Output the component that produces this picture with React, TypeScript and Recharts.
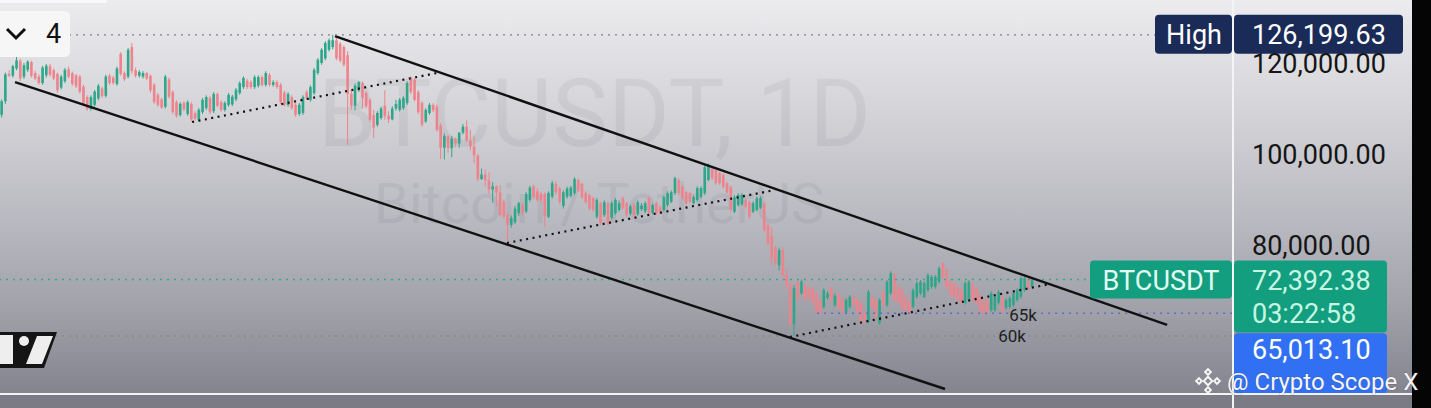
import { ComposedChart, Bar, XAxis, YAxis, ReferenceLine } from "recharts";

// daily candles, prices in thousands USDT: [open, high, low, close]
type C = [number, number, number, number];

const summerTop: C[] = [
  [108.6, 112.0, 108.0, 111.6], [111.6, 117.9, 111.0, 117.5], [117.6, 118.4, 116.9, 117.2], [117.2, 119.6, 116.8, 119.3],
  [118.8, 123.0, 118.4, 120.6], [120.5, 120.9, 116.0, 116.6], [117.0, 120.0, 116.5, 119.5], [118.5, 120.6, 118.0, 120.3],
  [120.2, 120.5, 116.8, 117.2], [117.8, 118.3, 116.2, 116.6], [117.0, 117.5, 115.2, 115.6], [115.6, 119.4, 115.2, 119.0],
  [117.3, 119.8, 116.8, 119.4], [119.3, 119.8, 117.0, 117.4], [118.4, 118.8, 116.2, 116.6], [117.6, 117.9, 113.5, 114.0],
  [114.6, 117.4, 114.2, 117.0], [116.0, 118.9, 115.6, 118.5], [118.6, 119.2, 116.6, 117.0], [117.8, 118.1, 115.0, 115.4],
  [117.3, 117.6, 114.5, 114.9], [117.0, 117.4, 113.3, 113.7], [114.8, 115.2, 110.5, 110.9], [112.5, 112.9, 109.5, 109.9],
  [109.9, 112.9, 109.5, 112.5], [110.8, 114.1, 110.4, 113.7], [112.2, 115.4, 111.8, 115.0], [114.4, 114.8, 112.3, 112.7],
  [112.8, 117.4, 112.4, 117.0], [117.2, 117.6, 115.2, 115.6], [116.8, 117.2, 115.2, 115.6], [115.4, 119.2, 115.0, 118.8],
  [122.0, 122.4, 117.2, 117.6], [117.8, 118.2, 116.0, 116.4], [117.0, 123.3, 116.6, 122.9], [123.5, 124.4, 117.6, 118.2],
  [118.4, 119.0, 116.8, 117.2], [117.2, 118.4, 116.8, 118.0], [117.0, 118.2, 116.6, 117.8], [117.8, 118.0, 116.2, 116.6],
  [117.2, 117.5, 113.5, 114.0], [115.2, 115.6, 111.0, 111.4], [113.0, 113.4, 110.4, 110.8], [112.0, 112.4, 109.9, 110.2],
  [110.4, 117.4, 110.0, 117.0], [116.4, 116.8, 112.2, 112.6], [113.6, 114.0, 108.8, 109.2], [111.4, 111.8, 108.0, 108.4],
  [108.6, 111.4, 108.2, 111.0], [111.2, 111.6, 109.4, 109.8], [108.8, 111.8, 108.4, 111.4], [111.0, 111.4, 107.2, 107.6],
  [109.0, 109.4, 107.4, 107.8], [107.5, 110.1, 107.2, 109.7], [109.2, 112.3, 108.8, 111.9], [110.1, 112.9, 109.7, 112.5],
];

const octoberPeak: C[] = [
  [112.3, 112.7, 108.8, 109.2], [109.4, 113.6, 109.0, 113.2], [113.2, 113.5, 110.2, 110.6], [111.4, 111.8, 109.3, 109.7],
  [109.7, 111.6, 109.3, 111.2], [110.8, 113.4, 110.4, 113.0], [110.9, 113.0, 110.5, 112.6], [112.0, 114.5, 111.6, 114.1],
  [113.4, 116.0, 113.0, 115.6], [114.7, 117.1, 114.3, 116.7], [116.1, 116.5, 114.3, 114.7], [115.8, 116.2, 114.3, 114.7],
  [114.7, 117.3, 114.3, 116.9], [115.0, 117.3, 114.6, 116.9], [116.9, 117.3, 114.8, 115.2], [115.2, 118.2, 114.8, 117.8],
  [117.4, 117.8, 114.8, 115.2], [115.2, 116.2, 114.8, 115.8], [115.8, 116.2, 114.3, 114.7], [115.2, 115.6, 111.0, 111.4],
  [113.5, 113.9, 110.4, 110.8], [110.8, 113.6, 110.4, 113.2], [112.5, 112.9, 109.7, 110.1], [110.8, 111.2, 108.2, 108.6],
  [108.8, 111.2, 108.4, 110.8], [109.0, 112.9, 108.6, 112.5], [113.6, 114.0, 111.9, 112.3], [111.9, 115.1, 111.5, 114.7],
  [113.4, 118.9, 113.0, 118.5], [117.8, 121.1, 117.4, 120.7], [120.0, 123.3, 119.6, 122.9], [121.0, 124.8, 120.6, 124.4],
  [122.9, 125.4, 122.5, 125.0], [123.5, 126.2, 123.0, 125.0], [125.0, 125.5, 120.6, 121.0], [124.2, 124.6, 120.1, 120.5],
  [123.5, 123.9, 119.2, 119.6], [121.7, 122.6, 102.0, 113.2], [113.2, 114.0, 109.7, 110.6], [110.6, 115.5, 109.6, 115.0],
  [114.0, 116.0, 113.6, 115.8], [115.6, 115.9, 110.0, 112.4], [113.4, 113.8, 110.0, 110.5], [111.9, 112.3, 107.0, 107.5],
  [108.5, 109.7, 103.5, 105.8], [106.4, 109.4, 106.0, 109.0], [107.9, 110.4, 107.5, 110.0], [110.6, 114.0, 107.5, 108.4],
  [108.4, 109.4, 106.8, 107.6], [107.6, 110.5, 107.4, 110.0], [110.0, 111.9, 109.5, 111.0], [109.7, 112.3, 109.3, 111.9],
  [110.1, 112.7, 109.7, 112.3], [111.2, 116.0, 110.8, 115.6], [116.7, 117.1, 113.2, 113.6], [116.3, 116.7, 111.5, 111.9],
  [113.6, 114.0, 108.8, 109.2], [111.2, 111.6, 106.0, 106.4], [107.2, 110.1, 106.8, 109.7], [109.0, 111.2, 108.6, 110.8],
  [110.8, 111.2, 109.2, 109.6], [110.4, 110.8, 104.9, 105.3],
];

const novemberSlide: C[] = [
  [106.2, 106.8, 98.9, 101.4], [101.4, 104.5, 98.8, 103.9], [103.9, 104.2, 100.3, 101.3], [101.3, 104.0, 99.3, 103.4],
  [103.4, 103.6, 101.5, 102.3], [102.3, 104.8, 101.4, 104.7], [104.7, 106.6, 104.3, 106.0], [106.0, 107.4, 102.6, 103.0],
  [103.0, 105.3, 100.8, 101.6], [101.6, 104.0, 98.0, 99.7], [99.7, 99.9, 94.0, 94.5], [94.5, 96.8, 94.3, 95.5],
  [95.5, 96.6, 92.9, 94.2], [94.2, 96.0, 91.2, 92.2], [92.2, 93.8, 89.3, 92.9], [92.9, 93.1, 88.6, 91.5],
  [91.5, 93.2, 86.3, 86.6], [89.5, 90.0, 85.8, 86.2], [86.6, 87.0, 80.6, 84.4], [84.4, 86.5, 83.8, 85.9],
  [85.0, 88.6, 84.6, 88.0], [87.0, 89.5, 86.4, 89.2], [88.8, 89.3, 86.5, 87.1], [87.4, 91.6, 87.0, 91.2],
  [89.9, 93.0, 89.5, 92.6], [92.9, 93.2, 90.0, 90.6], [91.8, 92.5, 89.5, 89.9], [91.3, 91.7, 89.4, 89.9],
  [91.2, 91.6, 83.9, 86.4], [86.2, 91.8, 85.9, 91.4], [90.6, 94.1, 90.2, 93.6], [93.4, 94.0, 91.0, 91.6],
  [92.4, 92.8, 89.0, 89.5], [88.6, 92.0, 88.0, 91.6], [90.6, 92.8, 90.2, 92.4], [90.8, 93.0, 90.4, 92.6],
  [91.4, 94.9, 91.0, 94.5], [94.3, 94.6, 91.6, 92.0], [93.4, 93.7, 90.1, 90.5], [91.4, 91.8, 89.0, 89.4],
  [91.0, 91.3, 87.6, 88.0], [90.3, 90.6, 87.3, 87.7], [86.2, 90.3, 85.8, 89.9], [89.2, 89.5, 84.4, 84.8],
  [86.6, 89.8, 86.2, 89.4], [89.2, 89.6, 84.2, 84.6], [86.0, 89.6, 85.6, 89.2], [87.0, 90.3, 86.6, 89.9],
  [87.7, 89.8, 87.3, 89.2], [90.3, 90.6, 87.7, 88.1], [89.2, 89.5, 86.2, 86.6], [86.9, 88.9, 86.5, 88.5],
  [88.8, 89.2, 86.2, 86.6], [86.8, 89.8, 86.4, 89.4], [87.9, 89.2, 87.5, 88.7], [87.4, 89.6, 87.0, 89.2],
  [90.3, 90.7, 86.6, 87.0], [87.0, 89.1, 86.7, 88.8], [89.2, 89.6, 86.6, 87.0], [88.3, 88.7, 86.7, 87.0],
  [87.7, 90.9, 87.3, 90.5], [88.8, 91.8, 88.4, 91.4], [89.5, 92.0, 89.2, 91.6],
];

const winterRange: C[] = [
  [91.4, 95.0, 91.0, 94.7], [94.3, 94.7, 91.0, 91.4], [92.8, 93.1, 89.9, 90.3], [91.6, 91.9, 88.8, 89.2],
  [91.4, 91.7, 89.2, 89.5], [89.2, 90.9, 88.9, 90.5], [89.9, 92.9, 89.5, 92.5], [90.6, 92.9, 90.2, 92.5],
  [91.4, 97.5, 91.0, 97.1], [94.3, 97.9, 94.0, 97.6], [96.9, 97.4, 94.3, 94.7], [96.5, 96.8, 93.2, 93.6],
  [95.8, 96.1, 93.2, 93.6], [95.4, 95.7, 92.4, 92.8], [93.6, 93.9, 91.2, 91.6], [92.8, 93.1, 87.3, 87.7],
  [87.3, 90.9, 87.0, 90.5], [88.8, 91.4, 88.4, 91.0], [89.0, 91.4, 88.6, 91.0], [89.9, 90.3, 88.0, 88.4],
  [89.4, 89.8, 85.8, 86.2], [87.3, 89.6, 87.0, 89.2], [87.7, 90.7, 87.4, 90.3], [88.2, 90.7, 87.9, 90.3],
  [89.2, 89.6, 82.9, 83.3], [84.4, 84.8, 80.0, 80.4], [82.0, 83.9, 75.6, 77.0], [79.4, 79.8, 75.4, 76.0],
  [75.5, 79.4, 74.4, 78.9], [78.9, 79.4, 72.8, 73.4], [73.4, 74.6, 70.6, 71.2], [71.2, 71.8, 62.2, 62.6],
  [62.6, 71.2, 60.0, 70.5], [71.8, 72.3, 67.6, 68.4], [69.4, 72.4, 69.0, 72.0], [71.2, 71.6, 67.6, 68.0],
  [70.5, 70.9, 68.2, 68.6], [70.4, 70.7, 66.9, 67.3], [69.4, 69.8, 64.9, 65.3], [67.9, 68.2, 64.7, 65.1],
  [66.4, 70.5, 66.0, 70.1], [68.4, 69.8, 68.0, 69.4], [70.5, 70.9, 67.5, 67.9], [66.8, 69.3, 66.4, 68.9],
  [69.0, 69.4, 65.8, 66.2], [68.3, 68.6, 64.9, 65.3], [65.3, 68.3, 65.0, 67.9], [66.4, 69.0, 66.0, 68.6],
  [68.6, 69.0, 66.4, 66.8], [67.9, 68.3, 64.9, 65.3],
];

const springBase: C[] = [
  [67.3, 67.6, 62.4, 62.9], [65.1, 65.5, 62.6, 63.6], [63.1, 70.1, 62.7, 69.7], [68.6, 69.0, 65.8, 66.2],
  [67.9, 68.2, 63.8, 64.2], [62.9, 68.3, 62.5, 67.9], [69.7, 70.1, 66.4, 66.8], [66.8, 72.3, 66.4, 71.9],
  [69.4, 74.2, 69.0, 73.8], [73.4, 73.8, 67.5, 67.9], [70.8, 71.2, 67.1, 67.5], [70.1, 70.5, 65.8, 66.2],
  [68.6, 68.9, 65.3, 65.7], [67.5, 67.8, 64.7, 65.1], [66.4, 70.5, 66.0, 70.1], [68.6, 72.0, 68.2, 71.6],
  [69.4, 72.3, 69.0, 71.9], [68.6, 72.0, 68.3, 71.6], [70.1, 73.8, 69.7, 73.4], [70.8, 73.4, 70.4, 73.0],
  [70.8, 73.4, 70.4, 73.0], [71.9, 75.3, 71.5, 74.9], [76.0, 76.2, 72.6, 73.0], [74.5, 74.9, 70.4, 70.8],
  [71.9, 72.3, 68.6, 69.0], [71.4, 71.8, 68.2, 68.6], [70.8, 71.2, 67.5, 67.9], [70.1, 70.5, 67.1, 67.5],
  [67.3, 72.0, 66.9, 71.6], [68.0, 72.3, 67.6, 71.9], [71.6, 72.0, 67.5, 67.9], [70.5, 70.9, 66.9, 67.3],
  [69.0, 69.4, 64.9, 65.3], [67.5, 67.9, 64.7, 65.1], [67.9, 68.3, 64.9, 65.3], [65.7, 69.8, 65.3, 69.4],
  [65.7, 69.0, 65.3, 68.6], [67.3, 70.1, 66.9, 69.7], [68.6, 69.0, 64.9, 65.3], [66.2, 68.3, 65.8, 67.9],
  [66.4, 68.7, 66.0, 68.3], [66.8, 69.8, 66.4, 69.4], [67.9, 70.5, 67.5, 70.1], [68.6, 73.1, 68.2, 72.7],
  [70.1, 73.6, 69.7, 72.7], [72.7, 73.6, 70.1, 70.5], [70.8, 72.8, 70.4, 72.39238],
];

const priceTicks = [80, 100, 120];
const HIGH = 126.19963;
const LAST = 72.39238;
const LEVEL_BLUE = 65.0131;
const LEVEL_60 = 60;
const COUNTDOWN = "03:22:58";

// hand-drawn lines, [bar index, price k]
const upperChannel = [{ x: 89.5, y: 125.93 }, { x: 313.2, y: 62.42 }];
const lowerChannel = [{ x: 3.5, y: 115.82 }, { x: 253.5, y: 48.35 }];
const dottedA = [{ x: 51.1, y: 107.03 }, { x: 116.9, y: 117.8 }];
const dottedB = [{ x: 135.75, y: 80.44 }, { x: 207.8, y: 92.09 }];
const dottedC = [{ x: 211.8, y: 59.78 }, { x: 281.7, y: 71.43 }];

const candles = [...summerTop, ...octoberPeak, ...novemberSlide, ...winterRange, ...springBase].map(
  ([o, h, l, c], i) => ({ i, o, h, l, c, range: [l, h] })
);

const GREEN = "#2ea68a";
const RED = "#ee838c";
const NAVY = "#1a2b58";
const TEAL = "#129e7f";
const BLUE = "#3170f3";
const FONT = "Roboto, 'Noto Sans', sans-serif";

const fmt = (v: number) =>
  (v * 1000).toLocaleString("en-US", { minimumFractionDigits: 2, maximumFractionDigits: 2 });

const Candle = (props: any) => {
  const { x, y, width, height, payload } = props;
  if (!payload) return null;
  const { o, h, l, c } = payload;
  const top = Math.min(y, y + height);
  const hh = Math.abs(height);
  const k = hh / (h - l || 1);
  const cx = x + width / 2;
  const yo = top + (h - o) * k;
  const yc = top + (h - c) * k;
  const col = c >= o ? GREEN : RED;
  return (
    <g>
      <line x1={cx} x2={cx} y1={top} y2={top + hh} stroke={col} strokeWidth={1} />
      <rect x={cx - 1.3} y={Math.min(yo, yc)} width={2.6} height={Math.max(Math.abs(yc - yo), 1)} fill={col} />
    </g>
  );
};

const HighTag = ({ viewBox }: any) => {
  if (!viewBox) return null;
  const ax = viewBox.x + viewBox.width;
  const y = viewBox.y;
  return (
    <g fontFamily={FONT} fontSize={27}>
      <rect x={ax - 78} y={y - 20} width={77} height={39} rx={4} fill={NAVY} />
      <text x={ax - 39} y={y} textAnchor="middle" dominantBaseline="central" fill="#fff">High</text>
      <rect x={ax + 1} y={y - 20} width={169} height={39} rx={4} fill={NAVY} />
      <text x={ax + 19} y={y} dominantBaseline="central" fill="#fff">{fmt(HIGH)}</text>
    </g>
  );
};

const LastTag = ({ viewBox }: any) => {
  if (!viewBox) return null;
  const ax = viewBox.x + viewBox.width;
  const y = viewBox.y;
  return (
    <g fontFamily={FONT} fontSize={27}>
      <rect x={ax - 143} y={y - 19} width={142} height={38} rx={4} fill={TEAL} />
      <text x={ax - 72} y={y + 1} textAnchor="middle" dominantBaseline="central" fill="#e2fbf1">BTCUSDT</text>
      <rect x={ax + 1} y={y - 19} width={153} height={72} rx={4} fill={TEAL} />
      <text x={ax + 19} y={y + 1} dominantBaseline="central" fill="#c6f6e2">{fmt(LAST)}</text>
      <text x={ax + 19} y={y + 34} dominantBaseline="central" fill="#c6f6e2">{COUNTDOWN}</text>
    </g>
  );
};

const BlueTag = ({ viewBox }: any) => {
  if (!viewBox) return null;
  const ax = viewBox.x + viewBox.width;
  const y = viewBox.y;
  return (
    <g fontFamily={FONT}>
      <text x={ax - 210} y={y + 2} textAnchor="middle" dominantBaseline="central" fontSize={17}
        fill="#1d1d22" stroke="#9d9da6" strokeWidth={4} paintOrder="stroke">65k</text>
      <rect x={ax + 1} y={y + 20} width={153} height={60} rx={4} fill={BLUE} />
      <text x={ax + 19} y={y + 37} dominantBaseline="central" fill="#fff" fontSize={27}>{fmt(LEVEL_BLUE)}</text>
    </g>
  );
};

const SixtyTag = ({ viewBox }: any) => {
  if (!viewBox) return null;
  const ax = viewBox.x + viewBox.width;
  return (
    <text x={ax - 221} y={viewBox.y} textAnchor="middle" dominantBaseline="central" fontSize={17}
      fontFamily={FONT} fill="#1d1d22" stroke="#9698a1" strokeWidth={4} paintOrder="stroke">60k</text>
  );
};

export default function App() {
  return (
    <div
      style={{
        position: "absolute", left: 0, top: 0, width: 1431, height: 408, overflow: "hidden",
        background: "linear-gradient(180deg, #ececef 0%, #d6d6da 25%, #bdbdc4 50%, #a2a2ab 75%, #7f7f8a 100%)",
        fontFamily: FONT,
      }}
    >
      <svg width={1431} height={408} style={{ position: "absolute", left: 0, top: 0 }}>
        <text x={318} y={146} fontSize={94} fill="rgba(60,60,75,0.07)" fontFamily={FONT}>BTCUSDT, 1D</text>
        <text x={374} y={223} fontSize={56} fill="rgba(60,60,75,0.07)" fontFamily={FONT}>Bitcoin / TetherUS</text>
      </svg>

      <div style={{ position: "absolute", left: 0, top: 0 }}>
        <ComposedChart width={1431} height={408} data={candles} margin={{ top: 0, right: 0, bottom: 14, left: 0 }}>
          <XAxis dataKey="i" type="number" domain={[-0.54, 330.91]} allowDataOverflow hide />
          <YAxis
            orientation="right"
            domain={[47.253, 133.846]}
            allowDataOverflow
            ticks={priceTicks}
            tickFormatter={fmt}
            width={198}
            axisLine={false}
            tickLine={false}
            tickSize={0}
            tickMargin={19}
            tick={{ fill: "#151515", fontSize: 27, fontFamily: FONT, textAnchor: "start" }}
          />
          <ReferenceLine y={LEVEL_60} stroke="#878893" strokeDasharray="2 5" strokeWidth={1.3} label={<SixtyTag />} />
          <ReferenceLine y={LAST} stroke="#35a890" strokeDasharray="2 5" strokeWidth={1.5} />
          <ReferenceLine
            segment={[{ x: 219.1, y: LEVEL_BLUE }, { x: 330.91, y: LEVEL_BLUE }]}
            stroke="#5b6fd2" strokeDasharray="2 5" strokeWidth={1.5}
          />
          <Bar dataKey="range" barSize={3} shape={<Candle />} isAnimationActive={false} />
          <ReferenceLine segment={upperChannel} stroke="#111" strokeWidth={2.4} ifOverflow="visible" />
          <ReferenceLine segment={lowerChannel} stroke="#111" strokeWidth={2.4} ifOverflow="visible" />
          <ReferenceLine segment={dottedA} stroke="#111" strokeWidth={2.2} strokeDasharray="2 4.5" ifOverflow="visible" />
          <ReferenceLine segment={dottedB} stroke="#111" strokeWidth={2.2} strokeDasharray="2 4.5" ifOverflow="visible" />
          <ReferenceLine segment={dottedC} stroke="#111" strokeWidth={2.2} strokeDasharray="2 4.5" ifOverflow="visible" />
          <ReferenceLine y={HIGH} stroke="#80808a" strokeDasharray="2 5" strokeWidth={1.3} label={<HighTag />} />
          <ReferenceLine
            segment={[{ x: 219.1, y: LEVEL_BLUE }, { x: 330.91, y: LEVEL_BLUE }]}
            stroke="none" label={<BlueTag />}
          />
          <ReferenceLine y={LAST} stroke="none" label={<LastTag />} />
        </ComposedChart>
      </div>

      <svg width={1431} height={408} style={{ position: "absolute", left: 0, top: 0, pointerEvents: "none" }}>
        {/* screenshot chrome */}
        <rect x={0} y={0} width={107} height={3} fill="#f8f8f8" />
        <path d="M0 11 H64 Q70 11 70 17 V51 Q70 57 64 57 H0 Z" fill="#f6f6f6" />
        <polyline points="7,29 16,38 25,29" fill="none" stroke="#111" strokeWidth={3} />
        <text x={46} y={43} fontSize={27} fill="#111" fontFamily={FONT}>4</text>
        <polygon points="0,332 57,332 44,368 0,368" fill="#151515" />
        <rect x={0} y={335} width={13} height={29} fill="#eeeeee" />
        <circle cx={24} cy={341} r={5} fill="#eeeeee" />
        <polygon points="37,336 53,336 42,364 26,364" fill="#eeeeee" />
        <rect x={0} y={395} width={1412} height={13} fill="#7b7b86" />
        <rect x={0} y={393} width={1412} height={2} fill="#f4f4f6" />
        <rect x={1232} y={0} width={2} height={408} fill="#f4f4f6" />
        <rect x={1412} y={0} width={19} height={408} fill="#050505" />
        <g transform="translate(1208 381)" fill="none" stroke="#f4f4f4" strokeWidth={2}>
          <rect x={-3} y={-3} width={6} height={6} transform="rotate(45)" />
          <rect x={-11} y={-2} width={4} height={4} transform="rotate(45 -9 0)" />
          <rect x={7} y={-2} width={4} height={4} transform="rotate(45 9 0)" />
          <rect x={-2} y={-11} width={4} height={4} transform="rotate(45 0 -9)" />
          <rect x={-2} y={7} width={4} height={4} transform="rotate(45 0 9)" />
        </g>
        <text x={1227} y={390} fontSize={24} fill="#f6f6f6" fontFamily={FONT}
          stroke="rgba(60,60,70,0.35)" strokeWidth={1} paintOrder="stroke">@ Crypto Scope X</text>
      </svg>
    </div>
  );
}
